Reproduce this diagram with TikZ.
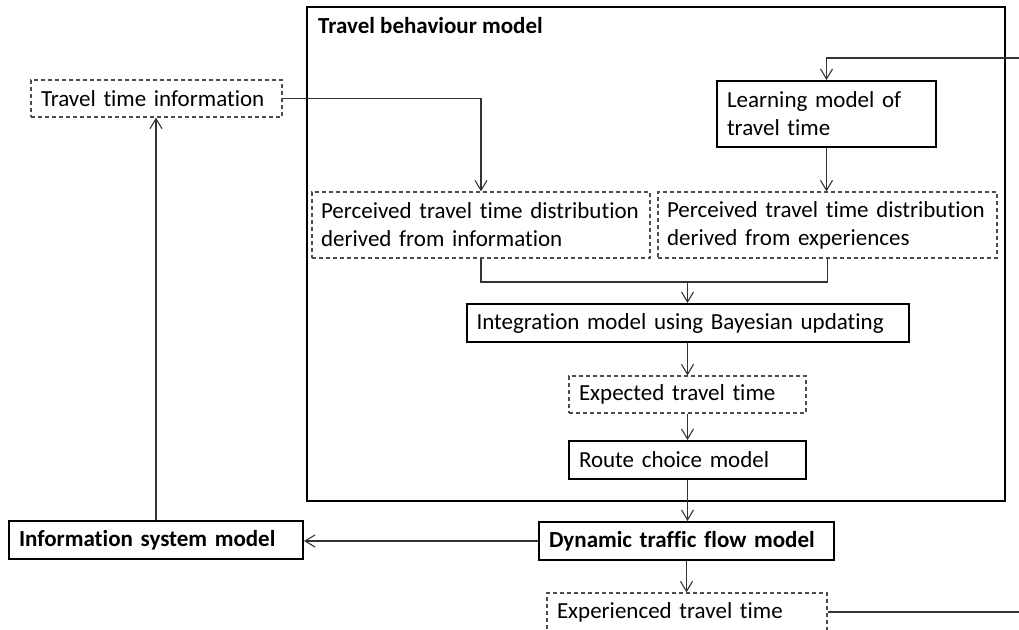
\documentclass[tikz,border=0pt]{standalone}
\usepackage{fontspec}
\setmainfont[Ligatures=NoCommon]{Carlito}
\usetikzlibrary{arrows.meta,positioning}
\newcommand\dfont{\fontsize{23}{28}\selectfont}
\tikzset{
  solidbox/.style={draw, line width=2pt, inner xsep=10pt, inner ysep=0pt, align=left},
  dashbox/.style={draw=black!70, dash pattern=on 4pt off 3pt, line width=1.2pt, inner xsep=10pt, inner ysep=0pt, align=left},
  boldtext/.style={font=\dfont\bfseries},
  conn/.style={draw=black!80, line width=1.1pt, -{Straight Barb[length=10pt,width=12pt]}},
  link/.style={draw=black!80, line width=1.1pt},
}
\begin{document}
\begin{tikzpicture}[x=1pt,y=-1pt,font=\dfont]
    \useasboundingbox (0,0) rectangle (1019,629);
    \clip (0,0) rectangle (1019,629);

    % frame of the travel behaviour model
    \draw[line width=2.3pt] (307,7) rectangle (1005,501);
    \node[anchor=base west, inner sep=0pt, boldtext] (tbm) at (318,33) {Travel behaviour model};

    \node[dashbox, text width=231pt, minimum height=37pt] (tti) at (156.5,98.5) {Travel time information};
    \node[solidbox, text width=199pt, minimum height=66pt] (learn) at (826.5,114) {Learning model of\\travel time};
    \node[dashbox, inner xsep=9pt, text width=320pt, minimum height=66pt] (pinfo) at (481,225) {Perceived travel time distribution\\derived from information};
    \node[dashbox, inner xsep=9pt, text width=321pt, minimum height=66pt] (pexp) at (827.5,225) {Perceived travel time distribution\\derived from experiences};
    \coordinate (jn) at (687.5,282);
    \node[solidbox, text width=422pt, minimum height=38pt] (integ) at (687.5,323) {Integration model using Bayesian updating};
    \node[dashbox, text width=217pt, minimum height=37pt] (expect) at (687.5,394.5) {Expected travel time};
    \node[solidbox, text width=217pt, minimum height=38pt] (route) at (687.5,460) {Route choice model};
    \node[solidbox, boldtext, text width=275pt, minimum height=38pt] (dyn) at (686.5,541) {Dynamic traffic flow model};
    \node[solidbox, boldtext, text width=274pt, minimum height=38pt] (isys) at (156,540) {Information system model};
    \node[dashbox, text width=260pt, minimum height=38pt] (exper) at (687,612) {Experienced travel time};

    % connectors
    \draw[conn] (tti.east) -| (pinfo.north);
    \draw[conn] (learn.south) -- (learn.south |- pexp.north);
    \draw[link] (pinfo.south) |- (jn) -| (pexp.south);
    \draw[conn] (jn) -- (integ.north);
    \draw[conn] (integ.south) -- (integ.south |- expect.north);
    \draw[conn] (expect.south) -- (expect.south |- route.north);
    \draw[conn] (route.south) -- (route.south |- dyn.north);
    \draw[conn] (dyn.south) -- (dyn.south |- exper.north);
    \draw[conn] (dyn.west) -- (dyn.west -| isys.east);
    \draw[conn] (isys.north) -- (isys.north |- tti.south);
    % feedback of experienced travel time
    \draw[conn] (exper.east) -- (1030,612) -- (1030,58) -| (learn.north);
\end{tikzpicture}
\end{document}
